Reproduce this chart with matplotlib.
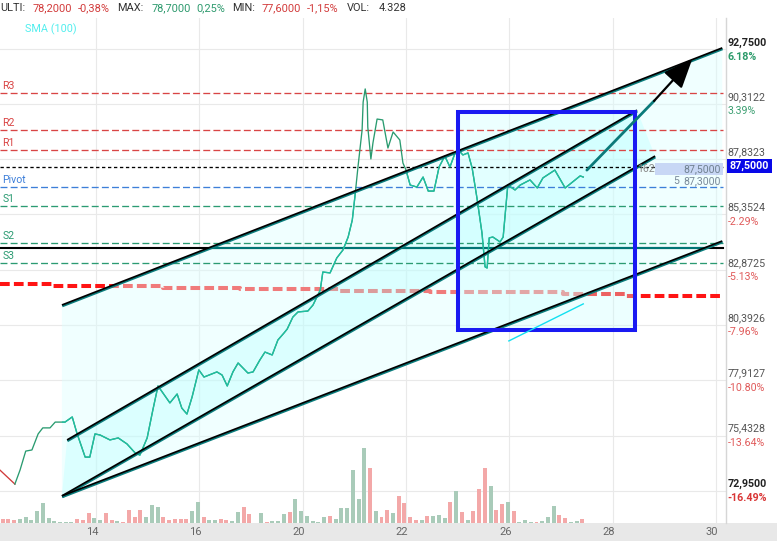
import matplotlib
matplotlib.use("Agg")
import matplotlib.pyplot as plt
from matplotlib.patches import Polygon, Rectangle
from matplotlib import patheffects as pe
from matplotlib.transforms import ScaledTranslation

plt.rcParams['font.family'] = ['Roboto', 'DejaVu Sans']
plt.rcParams['lines.scale_dashes'] = False

# ---------------- data ----------------
# price path: x = trading days counted from day 14, y = price
price_t = [-1.86, -1.57, -1.47, -1.36, -1.24, -1.12, -1.03, -0.89, -0.79, -0.60,
           -0.46, -0.37, -0.21, -0.12, -0.02, 0.08, 0.27, 0.43, 0.60, 0.76,
           0.85, 0.99, 1.10, 1.20, 1.43, 1.57, 1.66, 1.76, 1.86, 1.99,
           2.09, 2.34, 2.44, 2.54, 2.65, 2.75, 2.94, 3.04, 3.17, 3.27,
           3.41, 3.52, 3.64, 3.70, 3.81, 3.91, 4.10, 4.20, 4.34, 4.39,
           4.53, 4.66, 4.78, 4.88, 4.96, 5.01, 5.07, 5.15, 5.17, 5.21,
           5.25, 5.26, 5.32, 5.36, 5.44, 5.55, 5.65, 5.75, 5.88, 5.94,
           6.00, 6.08, 6.21, 6.33, 6.43, 6.54, 6.64, 6.75, 6.85, 6.95,
           7.05, 7.10, 7.20, 7.28, 7.37, 7.47, 7.53, 7.57, 7.61, 7.68,
           7.82, 7.88, 7.97, 8.11, 8.21, 8.40, 8.54, 8.65, 8.88, 9.08,
           9.37, 9.43]
price_v = [73.89, 73.26, 73.89, 74.74, 74.79, 75.51, 75.78, 75.78, 76.04, 76.04,
           76.27, 75.55, 74.47, 74.47, 75.51, 75.46, 75.24, 75.33, 75.06, 74.65,
           74.56, 75.33, 76.58, 77.66, 76.90, 77.30, 76.67, 76.40, 77.17, 78.38,
           78.06, 78.29, 78.15, 77.66, 78.29, 78.69, 78.24, 78.29, 78.82, 79.18,
           79.05, 79.72, 80.04, 80.21, 80.75, 80.98, 81.02, 81.29, 81.96, 82.77,
           82.73, 83.40, 83.76, 84.34, 85.10, 86.13, 87.48, 89.14, 90.39, 90.98,
           90.39, 89.27, 87.84, 88.56, 89.63, 89.59, 88.33, 89.05, 88.69, 87.66,
           87.34, 86.67, 86.58, 87.03, 86.40, 86.40, 87.48, 87.97, 87.48, 88.11,
           88.15, 88.02, 88.11, 87.43, 86.13, 84.52, 83.00, 82.95, 84.30, 84.34,
           84.12, 84.34, 86.67, 86.45, 86.67, 86.90, 86.54, 86.99, 87.34, 86.54,
           87.08, 87.03]

# hourly volume (9 bars per session) and bar direction (u = up, d = down)
volume = [11, 11, 8, 11, 17, 8, 35, 59, 14, 5,
          3, 3, 3, 11, 8, 29, 14, 8, 29, 8,
          5, 3, 38, 17, 38, 17, 53, 47, 17, 8,
          11, 11, 11, 35, 62, 17, 8, 8, 11, 8,
          5, 32, 47, 26, 0, 29, 3, 5, 5, 26,
          32, 71, 35, 20, 5, 3, 17, 20, 11, 44,
          44, 158, 71, 224, 164, 35, 18, 38, 29, 80,
          59, 17, 8, 8, 20, 20, 23, 14, 62, 95,
          32, 8, 35, 101, 164, 110, 38, 56, 62, 35,
          2, 8, 2, 2, 5, 17, 50, 23, 14, 2,
          5, 11]
volume_dir = ("ddduuuuuuu" "uuuddduudd" "udddduuudd" "ddduuduudd" "uudduuduuu"
              "duuuuuuduu" "uuuududdud" "ddduduuudu" "duddduddud" "uuuduuuddu" "ud")

# SMA(100) step values
sma_t = [-1.86, -0.83, 1.30, 2.79, 4.72, 6.46, 9.04, 10.24, 12.14]
sma_v = [82.22, 82.16, 82.07, 82.01, 81.93, 81.87, 81.79, 81.69, 81.69]

# pivot levels
level_names = ['R3', 'R2', 'R1', 'Pivot', 'S1', 'S2', 'S3']
level_values = [90.78, 89.12, 88.23, 86.57, 85.72, 84.06, 83.16]
last_price = 87.50
support_line = 83.85

# drawn trendlines: (t0, v0, t1, v1)
upper_line = (-0.66, 81.29, 12.12, 92.82)
mid_upper = (-0.56, 75.24, 10.47, 90.03)
mid_lower = (-0.66, 72.73, 10.82, 87.97)
lower_line = (-0.66, 72.73, 12.12, 84.16)
box_t = (7.01, 10.43)
box_v = (80.17, 89.95)
cyan_seg = (7.99, 79.68, 9.43, 81.34)
arrow_shaft = (9.50, 87.34, 10.80, 90.44)
arrow_tip = (11.54, 92.32)

# price scale
axis_values = [92.75, 90.3122, 87.8323, 85.3524, 82.8725, 80.3926, 77.9127, 75.4328, 72.95]
axis_labels = ['92,7500', '90,3122', '87,8323', '85,3524', '82,8725',
               '80,3926', '77,9127', '75,4328', '72,9500']
axis_pct = ['6.18%', '3.39%', '', '-2.29%', '-5.13%', '-7.96%', '-10.80%', '-13.64%', '-16.49%']

x_ticks = [0, 2, 4, 6, 8, 10, 12]
x_labels = ['14', '16', '20', '22', '26', '28', '30']

# ---------------- figure ----------------
W, H = 777, 541
fig = plt.figure(figsize=(W / 100, H / 100), dpi=100)
fig.patch.set_facecolor('white')

ax_left, ax_right, ax_top, ax_bottom = 0, 725.5, 18, 523
ax = fig.add_axes([ax_left / W, (H - ax_bottom) / H,
                   (ax_right - ax_left) / W, (ax_bottom - ax_top) / H])
ax.set_xlim(-1.858, 12.183)
ax.set_ylim(71.515, 94.161)

# bottom time band
fig.add_artist(Rectangle((0, 0), 1, (H - ax_bottom) / H, transform=fig.transFigure,
                         facecolor='#e8e8e8', edgecolor='none', zorder=-1))

for s in ['left', 'top', 'bottom']:
    ax.spines[s].set_visible(False)
ax.spines['right'].set_color('#d6d6d6')
ax.spines['right'].set_linewidth(1.0)

ax.set_yticks(axis_values)
ax.set_xticks(x_ticks)
ax.set_xticklabels(x_labels)
ax.grid(True, color='#e9e9e9', lw=0.8, zorder=0)
ax.set_axisbelow(True)
ax.tick_params(axis='y', length=0, labelleft=False, labelright=False)
ax.tick_params(axis='x', length=0, pad=2.6, labelcolor='#666666', labelsize=8)
for lab in ax.get_xticklabels():
    lab.set_transform(lab.get_transform() + ScaledTranslation(-4 / 100, 0, fig.dpi_scale_trans))

# volume bars on their own scale
axv = ax.twinx()
axv.set_ylim(0, 1514)
axv.set_axis_off()
bar_t = [-1.808 + i / 9 for i in range(len(volume))]
bar_c = ['#a9cbb9' if d == 'u' else '#f3a8a8' for d in volume_dir]
axv.bar(bar_t, volume, width=0.077, color=bar_c, linewidth=0)

# SMA(100), drawn beneath the translucent channel fills
ax.step(sma_t, sma_v, where='post', color='#ff1414', lw=2.9,
        ls=(0, (7, 3)), zorder=1)

# channel fills
outer = Polygon([(upper_line[0], upper_line[1]), (upper_line[2], upper_line[3]),
                 (lower_line[2], lower_line[3]), (lower_line[0], lower_line[1])],
                closed=True, facecolor=(0.867, 1, 1), alpha=0.44, edgecolor='none', zorder=1.5)
inner = Polygon([(mid_upper[0], mid_upper[1]), (mid_upper[2], mid_upper[3]),
                 (mid_lower[2], mid_lower[3]), (mid_lower[0], mid_lower[1])],
                closed=True, facecolor=(0.62, 1, 1), alpha=0.25, edgecolor='none', zorder=1.6)
box_fill = Rectangle((box_t[0], box_v[0]), box_t[1] - box_t[0], box_v[1] - box_v[0],
                     facecolor=(0.78, 1, 1), alpha=0.33, edgecolor='none', zorder=1.7)
for p in (outer, inner, box_fill):
    ax.add_patch(p)

# pivot levels
lvl_colors = {'R': '#d94545', 'P': '#3d7fd9', 'S': '#2b9b72'}
for name, val in zip(level_names, level_values):
    c = lvl_colors[name[0]]
    ax.axhline(val, xmin=0, xmax=723 / 725.5, color=c, lw=0.95, ls=(0, (5, 2.3)), zorder=2)
    ax.annotate(name, xy=(0.003, val), xycoords=('axes fraction', 'data'),
                xytext=(0, 5.2), textcoords='offset points', va='center', ha='left',
                fontsize=7.6, color=c, zorder=6)
ax.axhline(last_price, xmin=0, xmax=723 / 725.5, color='black', lw=0.95,
           ls=(0, (2.4, 1.9)), zorder=2)

# horizontal support line (teal inside the channel)
ax.plot([-1.858, 12.14], [support_line, support_line], color='black', lw=1.5, zorder=2.1)
sl = ax.plot([-1.858, 12.14], [support_line, support_line], color='#007474', lw=1.5, zorder=2.2)[0]
sl.set_clip_path(outer)

# price path
ax.plot(price_t[:2], price_v[:2], color='#d03a3a', lw=0.95, zorder=3)
ax.plot(price_t[1:], price_v[1:], color='#2a9b70', lw=0.95, zorder=3)
pl = ax.plot(price_t[1:], price_v[1:], color='#1fbfa2', lw=0.95, zorder=3.1)[0]
pl.set_clip_path(outer)

# trendlines
def trendline(seg):
    ax.plot([seg[0], seg[2]], [seg[1], seg[3]], color='black', lw=1.25,
            solid_capstyle='butt', zorder=4,
            path_effects=[pe.Stroke(offset=(0.3, -0.9), linewidth=1.5, foreground='#0a7c7c'),
                          pe.Normal()])

for seg in (upper_line, mid_upper, mid_lower, lower_line):
    trendline(seg)

# selection box
ax.add_patch(Rectangle((box_t[0], box_v[0]), box_t[1] - box_t[0], box_v[1] - box_v[0],
                       fill=False, edgecolor='#1a1af2', lw=2.9, zorder=4.5))

ax.plot([cyan_seg[0], cyan_seg[2]], [cyan_seg[1], cyan_seg[3]], color='#14e0f0', lw=1.0, zorder=5)
ax.plot([arrow_shaft[0], arrow_shaft[2]], [arrow_shaft[1], arrow_shaft[3]],
        color='#0b7a7a', lw=2.0, solid_capstyle='round', zorder=5)
ax.annotate('', xy=arrow_tip, xytext=(arrow_shaft[2], arrow_shaft[3]),
            arrowprops=dict(arrowstyle='-|>,head_length=1.8,head_width=0.75',
                            mutation_scale=10, color='black', lw=1.6,
                            shrinkA=0, shrinkB=0), zorder=5)

# last price tags inside the plot
ax.text(10.48, 87.39, '162', ha='left', va='center', fontsize=7.6, color='#8a8a8a', zorder=6)
ax.add_patch(Rectangle((10.82, 87.12), 12.135 - 10.82, 0.54, facecolor='#c8d7f5',
                       edgecolor='none', zorder=5.5))
ax.text(12.10, 87.39, '87,5000', ha='right', va='center', fontsize=7.6, color='#6f8090', zorder=6)
ax.text(11.17, 86.85, '5', ha='left', va='center', fontsize=7.6, color='#7a8a9a', zorder=6)
ax.text(12.10, 86.85, '87,3000', ha='right', va='center', fontsize=7.6, color='#7a8a9a', zorder=6)

# price scale labels
xr = 727.5 / W
for i, (val, lab, pct) in enumerate(zip(axis_values, axis_labels, axis_pct)):
    edge = i in (0, len(axis_values) - 1)
    ax.annotate(lab, xy=(xr, val), xycoords=('figure fraction', 'data'),
                xytext=(0, 5), textcoords='offset points', va='center', ha='left',
                fontsize=7.7, color='#222222' if edge else '#555555',
                fontweight='bold' if edge else 'normal', annotation_clip=False)
    if pct:
        if pct.startswith('-'):
            pc = '#d93636' if edge else '#e05a5a'
        else:
            pc = '#2b9a6a' if edge else '#3a9e70'
        ax.annotate(pct, xy=(xr, val), xycoords=('figure fraction', 'data'),
                    xytext=(0, -5.2), textcoords='offset points', va='center', ha='left',
                    fontsize=7.7, color=pc, fontweight='bold' if edge else 'normal',
                    annotation_clip=False)

# current price tag on the scale
fig.add_artist(Rectangle((727 / W, (H - 173) / H), 45 / W, 14 / H, transform=fig.transFigure,
                         facecolor='#0808e8', edgecolor='none', zorder=5))
fig.text(749.5 / W, (H - 166) / H, '87,5000', ha='center', va='center', fontsize=7.7,
         color='white', fontweight='bold', zorder=6)

# header line
header = [(0, 'ULTI:', '#333333'), (32.3, '78,2000', '#d23c3c'), (77.7, '-0,38%', '#d23c3c'),
          (117.3, 'MAX:', '#333333'), (151.7, '78,7000', '#2e9a6e'), (196.7, '0,25%', '#2e9a6e'),
          (231.7, 'MIN:', '#333333'), (261.7, '77,6000', '#d23c3c'), (306.7, '-1,15%', '#d23c3c'),
          (347.3, 'VOL:', '#333333'), (378.3, '4.328', '#333333')]
for x, s, c in header:
    fig.text(x / W, 1 - 8 / H, s, ha='left', va='center', fontsize=7.9, color=c)
fig.text(25 / W, 1 - 29 / H, 'SMA (100)', ha='left', va='center', fontsize=7.8, color='#52eeee')

fig.savefig('out.png', dpi=100)
